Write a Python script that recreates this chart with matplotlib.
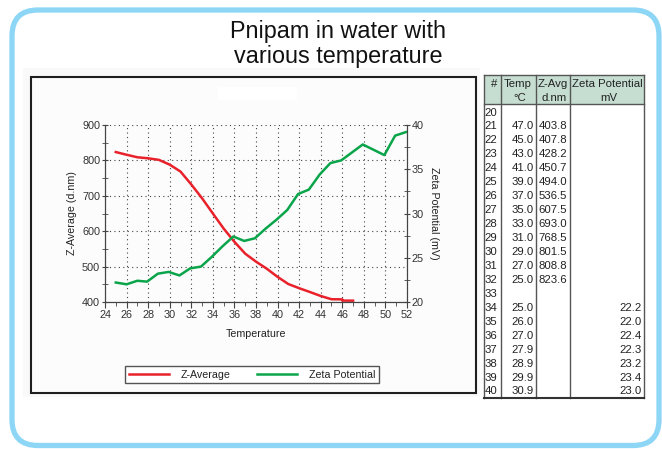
import matplotlib
matplotlib.use("Agg")
from matplotlib import pyplot as plt
from matplotlib.patches import FancyBboxPatch, Rectangle
from matplotlib.ticker import MultipleLocator

plt.rcParams['font.family'] = ['Liberation Sans', 'DejaVu Sans']

# Z-Average (d.nm) vs temperature
z_temp = [25, 26, 27, 28, 29, 30, 31, 32, 33, 34, 35, 36, 37, 38, 39, 40,
          41, 42, 43, 44, 45, 46, 46, 47]
z_avg = [823.6, 816, 808.8, 806, 801.5, 788, 768.5, 732, 693.0, 650, 607.5,
         570, 536.5, 514, 494.0, 471, 450.7, 439, 428.2, 417, 407.8, 407.5,
         404, 403.8]

# Zeta potential (mV) vs temperature
zeta_temp = [25.0, 26.0, 27.0, 27.9, 28.9, 29.9, 30.9, 31.9, 32.9, 33.9, 34.9,
             35.9, 36.9, 37.9, 38.9, 39.9, 40.9, 41.9, 42.9, 43.9, 44.9, 45.9,
             46.9, 47.9, 48.9, 49.9, 50.9, 51.9]
zeta = [22.2, 22.0, 22.4, 22.3, 23.2, 23.4, 23.0, 23.8, 24.0, 25.1, 26.3,
        27.4, 26.9, 27.2, 28.3, 29.3, 30.4, 32.2, 32.7, 34.4, 35.7, 36.0,
        36.9, 37.8, 37.2, 36.6, 38.8, 39.2]

# table on the right
tbl_ids = [str(i) for i in range(20, 41)]
tbl_temp = ['', '47.0', '45.0', '43.0', '41.0', '39.0', '37.0', '35.0', '33.0',
            '31.0', '29.0', '27.0', '25.0', '', '25.0', '26.0', '27.0', '27.9',
            '28.9', '29.9', '30.9']
tbl_zavg = ['', '403.8', '407.8', '428.2', '450.7', '494.0', '536.5', '607.5',
            '693.0', '768.5', '801.5', '808.8', '823.6'] + [''] * 8
tbl_zeta = [''] * 14 + ['22.2', '22.0', '22.4', '22.3', '23.2', '23.4', '23.0']

W, H = 662, 449
fig = plt.figure(figsize=(W / 100, H / 100), dpi=100)
fig.patch.set_facecolor('white')

# background layer in pixel coordinates
bg = fig.add_axes([0, 0, 1, 1], zorder=0)
bg.set_xlim(0, W)
bg.set_ylim(H, 0)
bg.axis('off')

bg.add_patch(FancyBboxPatch((12, 10), 647, 435.5, boxstyle="round,pad=0,rounding_size=26",
                            facecolor='white', edgecolor='#8ed6f6', lw=3.8))
bg.text(338, 38, 'Pnipam in water with', ha='center', va='baseline', fontsize=16.8, color='#111')
bg.text(338, 63.5, 'various temperature', ha='center', va='baseline', fontsize=16.8, color='#111')

# chart panel
bg.add_patch(Rectangle((23, 68), 457, 329, facecolor='#f9f9f9', edgecolor='none'))
bg.add_patch(Rectangle((31, 77), 445, 315.5, facecolor='#fcfcfc', edgecolor='#1e1e1e', lw=1.5))
bg.add_patch(Rectangle((218, 87), 79, 13, facecolor='white', edgecolor='none'))

# table
cols = [483.5, 500.5, 536, 570, 644]
top, head_bot, bottom = 74.5, 104, 398
bg.add_patch(Rectangle((cols[0], top), cols[-1] - cols[0], head_bot - top,
                       facecolor='#c6ded2', edgecolor='none'))
bg.add_patch(Rectangle((cols[0], head_bot), cols[-1] - cols[0], bottom - head_bot,
                       facecolor='white', edgecolor='none'))
for cx in cols:
    bg.plot([cx, cx], [top, bottom], color='#555', lw=1)
for hy in [top, head_bot]:
    bg.plot([cols[0], cols[-1]], [hy, hy], color='#555', lw=1)
bg.plot([cols[0], cols[-1]], [bottom, bottom], color='#333', lw=1.5)

tfs = 8.2
bg.text(497, 84, '#', ha='right', va='center', fontsize=tfs, color='#222')
bg.text(518, 84, 'Temp', ha='center', va='center', fontsize=tfs, color='#222')
bg.text(520, 98, '\u00b0C', ha='center', va='center', fontsize=tfs, color='#222')
bg.text(553, 84, 'Z-Avg', ha='center', va='center', fontsize=tfs, color='#222')
bg.text(554, 98, 'd.nm', ha='center', va='center', fontsize=tfs, color='#222')
bg.text(607, 84, 'Zeta Potential', ha='center', va='center', fontsize=tfs, color='#222')
bg.text(609, 98, 'mV', ha='center', va='center', fontsize=tfs, color='#222')

for i in range(len(tbl_ids)):
    ry = 112.5 + i * 13.95
    bg.text(484.5, ry, tbl_ids[i], ha='left', va='center', fontsize=tfs, color='#222')
    bg.text(533.5, ry, tbl_temp[i], ha='right', va='center', fontsize=tfs, color='#222')
    bg.text(567, ry, tbl_zavg[i], ha='right', va='center', fontsize=tfs, color='#222')
    bg.text(642, ry, tbl_zeta[i], ha='right', va='center', fontsize=tfs, color='#222')

# the chart
L, R, T, B = 105, 407, 125, 302
ax = fig.add_axes([L / W, 1 - B / H, (R - L) / W, (B - T) / H], zorder=2)
ax.set_facecolor('#fcfcfc')
ax2 = ax.twinx()

red, = ax.plot(z_temp, z_avg, color='#e8212b', lw=1.8, label='Z-Average')
green, = ax2.plot(zeta_temp, zeta, color='#0aa54a', lw=1.8, label='Zeta Potential')

ax.set_xlim(24, 52)
ax.set_ylim(400, 900)
ax2.set_ylim(20, 40)
ax.xaxis.set_major_locator(MultipleLocator(2))
ax.xaxis.set_minor_locator(MultipleLocator(1))
ax.yaxis.set_major_locator(MultipleLocator(100))
ax.yaxis.set_minor_locator(MultipleLocator(50))
ax2.yaxis.set_major_locator(MultipleLocator(5))
ax2.yaxis.set_minor_locator(MultipleLocator(2.5))

ax.grid(True, which='major', linestyle=(0, (1, 3)), color='#444', lw=0.8)
ax.set_axisbelow(True)

for a in (ax, ax2):
    for s in a.spines.values():
        s.set_color('#444')
    a.spines['top'].set_visible(False)
ax.tick_params(axis='x', which='major', direction='out', length=4, color='#444',
               labelsize=7.8, labelcolor='#333', pad=2)
ax.tick_params(axis='x', which='minor', direction='out', length=3, color='#444')
ax.tick_params(axis='y', which='both', direction='inout', length=5, color='#444',
               labelsize=7.8, labelcolor='#333', pad=1)
ax2.tick_params(axis='y', which='both', direction='inout', length=5, color='#444',
                labelsize=7.8, labelcolor='#333', pad=1)

ax.set_xlabel('Temperature', fontsize=7.7, color='#222')
ax.xaxis.set_label_coords(0.5, -(334 - B) / (B - T))
ax.xaxis.label.set_va('center')
ax.set_ylabel('Z-Average (d.nm)', fontsize=7.7, color='#222')
ax.yaxis.set_label_coords((72 - L) / (R - L), 0.5)
ax.yaxis.label.set_va('center')
ax2.set_ylabel('Zeta Potential (mV)', fontsize=7.7, color='#222', rotation=-90)
ax2.yaxis.set_label_coords((434 - L) / (R - L), 0.5)
ax2.yaxis.label.set_va('center')

leg = fig.legend(handles=[red, green], loc='center', ncol=2,
                 bbox_to_anchor=(252 / W, 1 - 374.7 / H), fontsize=7.7,
                 handlelength=3.75, handletextpad=1.1, columnspacing=2.5,
                 borderpad=0.3, fancybox=False, framealpha=1, edgecolor='#555')
leg.get_frame().set_linewidth(1)
for t in leg.get_texts():
    t.set_color('#222')

fig.savefig('out.png', dpi=100, facecolor='white')
